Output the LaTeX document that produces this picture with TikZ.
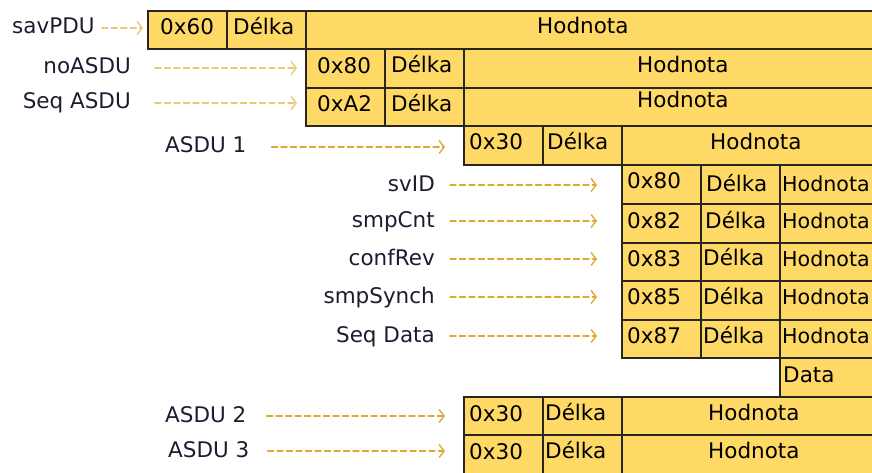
\documentclass[tikz,border=0pt]{standalone}
\usepackage{fontspec}
\setmainfont{DejaVu Sans}
\usetikzlibrary{arrows.meta}
\definecolor{cellfill}{RGB}{255,217,102}
\definecolor{cellline}{RGB}{40,38,30}
\definecolor{arrcol}{RGB}{222,168,52}
\definecolor{arrpale}{RGB}{234,200,120}
\definecolor{labcol}{RGB}{28,28,48}
\tikzset{
  cell/.style={draw=cellline, fill=cellfill, line width=2pt, anchor=north west, inner sep=0pt, minimum height=38.5pt},
  ctxt/.style={anchor=west, inner sep=0pt, text height=16pt, text depth=4pt, font=\fontsize{21.5}{25}\selectfont, text=black},
  ntxt/.style={ctxt, font=\fontsize{20.6}{25}\selectfont},
  lab/.style={inner sep=0pt, text height=16pt, text depth=4pt, font=\fontsize{21.5}{25}\selectfont, text=labcol},
  arr/.style={draw=arrcol, line width=1.4pt, dash pattern=on 6pt off 3.5pt, line cap=round,
    -{Straight Barb[length=5pt,width=13pt,line width=1.4pt]}},
  arrp/.style={arr, draw=arrpale}
}
\begin{document}
\begin{tikzpicture}[x=1pt,y=-1pt]
\useasboundingbox (0,0) rectangle (872,473);
\clip (0,0) rectangle (872,473);
% row 1
\node[cell, minimum width=79pt] (a1) at (147,10) {};
\node[cell, minimum width=79pt] (a2) at (226,10) {};
\node[cell, minimum width=600pt] (a3) at (305,10) {};
\node[ctxt] (ta1) at (160,29) {0x60};
\node[ctxt] (ta2) at (233,29) {Délka};
\node[ctxt] (ta3) at (537,28) {Hodnota};
% row 2
\node[cell, minimum width=79pt] (b1) at (305,48.5) {};
\node[cell, minimum width=79pt] (b2) at (384,48.5) {};
\node[cell, minimum width=500pt] (b3) at (463,48.5) {};
\node[ctxt] (tb1) at (317,68) {0x80};
\node[ctxt] (tb2) at (391,67) {Délka};
\node[ctxt] (tb3) at (637,67) {Hodnota};
% row 3
\node[cell, minimum width=79pt] (c1) at (305,87) {};
\node[cell, minimum width=79pt] (c2) at (384,87) {};
\node[cell, minimum width=500pt] (c3) at (463,87) {};
\node[ctxt] (tc1) at (317,106) {0xA2};
\node[ctxt] (tc2) at (391,106) {Délka};
\node[ctxt] (tc3) at (637,102) {Hodnota};
% row 4
\node[cell, minimum width=79pt] (d1) at (463,125.5) {};
\node[cell, minimum width=79pt] (d2) at (542,125.5) {};
\node[cell, minimum width=400pt] (d3) at (621,125.5) {};
\node[ctxt] (td1) at (469,144) {0x30};
\node[ctxt] (td2) at (547,144) {Délka};
\node[ctxt] (td3) at (710,144) {Hodnota};
% rows 5-9
\node[cell, minimum width=79pt] (e1) at (621,164.5) {};
\node[cell, minimum width=79pt] (e2) at (700,164.5) {};
\node[cell, minimum width=200pt] (e3) at (779,164.5) {};
\node[ctxt] (te1) at (627,183) {0x80};
\node[ctxt] (te2) at (706,185) {Délka};
\node[ntxt] (te3) at (782,185) {Hodnota};
\node[cell, minimum width=79pt] (f1) at (621,203) {};
\node[cell, minimum width=79pt] (f2) at (700,203) {};
\node[cell, minimum width=200pt] (f3) at (779,203) {};
\node[ctxt] (tf1) at (627,222) {0x82};
\node[ctxt] (tf2) at (705,222) {Délka};
\node[ntxt] (tf3) at (782,222) {Hodnota};
\node[cell, minimum width=79pt] (g1) at (621,241.5) {};
\node[cell, minimum width=79pt] (g2) at (700,241.5) {};
\node[cell, minimum width=200pt] (g3) at (779,241.5) {};
\node[ctxt] (tg1) at (627,260) {0x83};
\node[ctxt] (tg2) at (703,259) {Délka};
\node[ntxt] (tg3) at (782,260) {Hodnota};
\node[cell, minimum width=79pt] (h1) at (621,280) {};
\node[cell, minimum width=79pt] (h2) at (700,280) {};
\node[cell, minimum width=200pt] (h3) at (779,280) {};
\node[ctxt] (th1) at (627,298) {0x85};
\node[ctxt] (th2) at (703,298) {Délka};
\node[ntxt] (th3) at (782,298) {Hodnota};
\node[cell, minimum width=79pt] (i1) at (621,318.5) {};
\node[cell, minimum width=79pt] (i2) at (700,318.5) {};
\node[cell, minimum width=200pt] (i3) at (779,318.5) {};
\node[ctxt] (ti1) at (627,337) {0x87};
\node[ctxt] (ti2) at (703,337) {Délka};
\node[ntxt] (ti3) at (782,337) {Hodnota};
% data
\node[cell, minimum width=200pt] (j3) at (779,357) {};
\node[ctxt] (tj3) at (783,376) {Data};
% ASDU 2, 3
\node[cell, minimum width=79pt] (k1) at (463,395.5) {};
\node[cell, minimum width=79pt] (k2) at (542,395.5) {};
\node[cell, minimum width=400pt] (k3) at (621,395.5) {};
\node[ctxt] (tk1) at (469,415) {0x30};
\node[ctxt] (tk2) at (545,414) {Délka};
\node[ctxt] (tk3) at (708,414) {Hodnota};
\node[cell, minimum width=79pt] (l1) at (463,434) {};
\node[cell, minimum width=79pt] (l2) at (542,434) {};
\node[cell, minimum width=400pt] (l3) at (621,434) {};
\node[ctxt] (tl1) at (469,453) {0x30};
\node[ctxt] (tl2) at (545,452) {Délka};
\node[ctxt] (tl3) at (708,452) {Hodnota};
% labels
\node[lab, anchor=west] (lsav) at (12,28) {savPDU};
\node[lab, anchor=east] (lno) at (131,68) {noASDU};
\node[lab, anchor=east] (lseq) at (131,103) {Seq ASDU};
\node[lab, anchor=west] (las1) at (165,147) {ASDU 1};
\node[lab, anchor=east] (lsv) at (435,185) {svID};
\node[lab, anchor=east] (lsmp) at (435,221) {smpCnt};
\node[lab, anchor=east] (lconf) at (435,259) {confRev};
\node[lab, anchor=east] (lsyn) at (435,297) {smpSynch};
\node[lab, anchor=east] (lsd) at (435,336) {Seq Data};
\node[lab, anchor=west] (las2) at (165,416) {ASDU 2};
\node[lab, anchor=west] (las3) at (168,451) {ASDU 3};
% arrows
\draw[arrp] ([xshift=7pt]lsav.east) -- ([xshift=-4pt]lsav.east -| a1.west);
\draw[arrp] ([xshift=24pt]lno.east) -- ([xshift=-8pt]lno.east -| b1.west);
\draw[arrp] ([xshift=24pt]lseq.east) -- ([xshift=-8pt]lseq.east -| c1.west);
\draw[arr] ([xshift=25pt]las1.east) -- ([xshift=-18pt]las1.east -| d1.west);
\draw[arr] ([xshift=15pt]lsv.east) -- ([xshift=-24pt]lsv.east -| e1.west);
\draw[arr] ([xshift=15pt]lsmp.east) -- ([xshift=-24pt]lsmp.east -| f1.west);
\draw[arr] ([xshift=15pt]lconf.east) -- ([xshift=-24pt]lconf.east -| g1.west);
\draw[arr] ([xshift=15pt]lsyn.east) -- ([xshift=-24pt]lsyn.east -| h1.west);
\draw[arr] ([xshift=15pt]lsd.east) -- ([xshift=-24pt]lsd.east -| i1.west);
\draw[arr] ([xshift=20pt]las2.east) -- ([xshift=-18pt]las2.east -| k1.west);
\draw[arr] ([xshift=18pt]las3.east) -- ([xshift=-18pt]las3.east -| l1.west);
\end{tikzpicture}
\end{document}
